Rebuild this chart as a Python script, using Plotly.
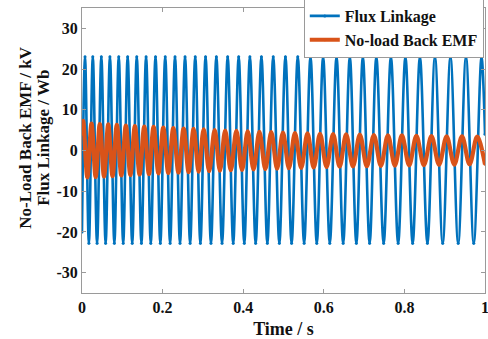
import plotly.graph_objects as go

# ---- data (time in s) ----
flux_start = (0.0, -20.0)
flux_end = (1.0, 4.0)
flux_peak_t = [0.0075, 0.0268, 0.0480, 0.0693, 0.0912, 0.1133, 0.1359, 0.1590, 0.1824, 0.2065,
               0.2308, 0.2557, 0.2810, 0.3066, 0.3334, 0.3615, 0.3888, 0.4166, 0.4452, 0.4745,
               0.5048, 0.5354, 0.5670, 0.5983, 0.6316, 0.6646, 0.6969, 0.7304, 0.7665, 0.8025,
               0.8385, 0.8758, 0.9143, 0.9528, 0.9913]
flux_peak_v = [23.0] * len(flux_peak_t)
flux_trough_t = [0.0171, 0.0374, 0.0586, 0.0803, 0.1022, 0.1246, 0.1475, 0.1707, 0.1944, 0.2186,
                 0.2432, 0.2683, 0.2938, 0.3200, 0.3475, 0.3752, 0.4027, 0.4309, 0.4599, 0.4897,
                 0.5201, 0.5512, 0.5826, 0.6149, 0.6481, 0.6808, 0.7137, 0.7485, 0.7845, 0.8205,
                 0.8571, 0.8950, 0.9335, 0.9721]
flux_trough_v = [-22.8] * len(flux_trough_t)

emf_start = (0.0, 4.0)
emf_peak_t = [0.0030, 0.0236, 0.0442, 0.0651, 0.0865, 0.1088, 0.1312, 0.1545, 0.1776, 0.2017,
              0.2266, 0.2522, 0.2770, 0.3019, 0.3292, 0.3553, 0.3831, 0.4112, 0.4402, 0.4696,
              0.4986, 0.5284, 0.5595, 0.5906, 0.6231, 0.6554, 0.6894, 0.7242, 0.7590, 0.7938,
              0.8298, 0.8671, 0.9048, 0.9429, 0.9806]
emf_peak_v = [7.3, 6.6, 6.5, 6.4, 6.3, 6.1, 6.0, 5.9, 5.8, 5.6, 5.5, 5.4, 5.3, 5.2, 5.0, 4.9,
              4.8, 4.7, 4.6, 4.5, 4.4, 4.3, 4.2, 4.1, 4.0, 3.95, 3.9, 3.8, 3.75, 3.7, 3.6, 3.55,
              3.5, 3.45, 3.4]
emf_trough_t = [0.0133, 0.0339, 0.0547, 0.0758, 0.0976, 0.1200, 0.1429, 0.1661, 0.1897, 0.2142,
                0.2394, 0.2646, 0.2894, 0.3155, 0.3422, 0.3692, 0.3971, 0.4257, 0.4549, 0.4841,
                0.5135, 0.5440, 0.5750, 0.6068, 0.6393, 0.6724, 0.7068, 0.7416, 0.7764, 0.8118,
                0.8484, 0.8860, 0.9238, 0.9617, 1.0]
emf_trough_v = [-6.6, -6.5, -6.4, -6.3, -6.1, -6.0, -5.9, -5.8, -5.6, -5.5, -5.4, -5.3, -5.2,
                -5.1, -4.95, -4.85, -4.75, -4.65, -4.55, -4.45, -4.35, -4.25, -4.15, -4.05,
                -3.95, -3.9, -3.85, -3.8, -3.7, -3.65, -3.6, -3.5, -3.45, -3.4, -3.4]

x_tick_vals = [0, 0.2, 0.4, 0.6, 0.8, 1]
x_tick_text = ["0", "0.2", "0.4", "0.6", "0.8", "1"]
y_tick_vals = [30, 20, 10, 0, -10, -20, -30]
y_tick_text = ["30", "20", "10", "0", "-10", "-20", "-30"]


def merge(points):
    pts = sorted(points)
    return [p[0] for p in pts], [p[1] for p in pts]


flux_pts = [flux_start, flux_end] + list(zip(flux_peak_t, flux_peak_v)) + list(zip(flux_trough_t, flux_trough_v))
emf_pts = [emf_start] + list(zip(emf_peak_t, emf_peak_v)) + list(zip(emf_trough_t, emf_trough_v))
flux_t, flux_v = merge(flux_pts)
emf_t, emf_v = merge(emf_pts)

FONT = "Liberation Serif, Times New Roman, serif"
BLUE = "#0072BD"
ORANGE = "#D95319"
TXT = "#111111"

fig = go.Figure()
fig.add_trace(go.Scatter(
    x=flux_t, y=flux_v, name="Flux Linkage", mode="lines+markers",
    line=dict(color=BLUE, width=2.6, shape="spline", smoothing=1),
    marker=dict(color=BLUE, size=3)))
fig.add_trace(go.Scatter(
    x=emf_t, y=emf_v, name="No-load Back EMF", mode="lines+markers",
    line=dict(color=ORANGE, width=4.2, shape="spline", smoothing=1),
    marker=dict(color=ORANGE, size=3)))

axis_common = dict(showgrid=False, zeroline=False, showline=True, linecolor="#9a9a9a",
                   linewidth=1, mirror="ticks", ticks="inside", ticklen=4, tickcolor="#9a9a9a",
                   ticklabeloverflow="allow",
                   tickfont=dict(family=FONT, size=16, color=TXT, weight="bold"))

fig.update_layout(
    width=488, height=339,
    margin=dict(l=82, r=3, t=8, b=46, autoexpand=False),
    paper_bgcolor="white", plot_bgcolor="white",
    font=dict(family=FONT, color=TXT, weight="bold"),
    xaxis=dict(range=[0, 1], tickvals=x_tick_vals, ticktext=x_tick_text,
               title=dict(text="Time / s", font=dict(family=FONT, size=18, color=TXT, weight="bold"),
                          standoff=7),
               **axis_common),
    yaxis=dict(range=[-35, 35], tickvals=y_tick_vals, ticktext=y_tick_text, **axis_common),
    legend=dict(x=0.997, y=1.035, xanchor="right", yanchor="top", bgcolor="white",
                bordercolor="#9a9a9a", borderwidth=1,
                font=dict(family=FONT, size=16, color=TXT, weight="bold"),
                itemwidth=30, tracegroupgap=0),
    showlegend=True,
)

fig.add_annotation(text="No-Load Back EMF / kV", xref="paper", yref="paper",
                   x=-0.139, y=0.545, textangle=-90, showarrow=False,
                   xanchor="center", yanchor="middle",
                   font=dict(family=FONT, size=17, color=TXT, weight="bold"))
fig.add_annotation(text="Flux Linkage / Wb", xref="paper", yref="paper",
                   x=-0.094, y=0.545, textangle=-90, showarrow=False,
                   xanchor="center", yanchor="middle",
                   font=dict(family=FONT, size=17, color=TXT, weight="bold"))

fig.write_html("out.html", config={"displayModeBar": False},
               post_script="document.body.style.margin='0';document.body.style.padding='0';")
